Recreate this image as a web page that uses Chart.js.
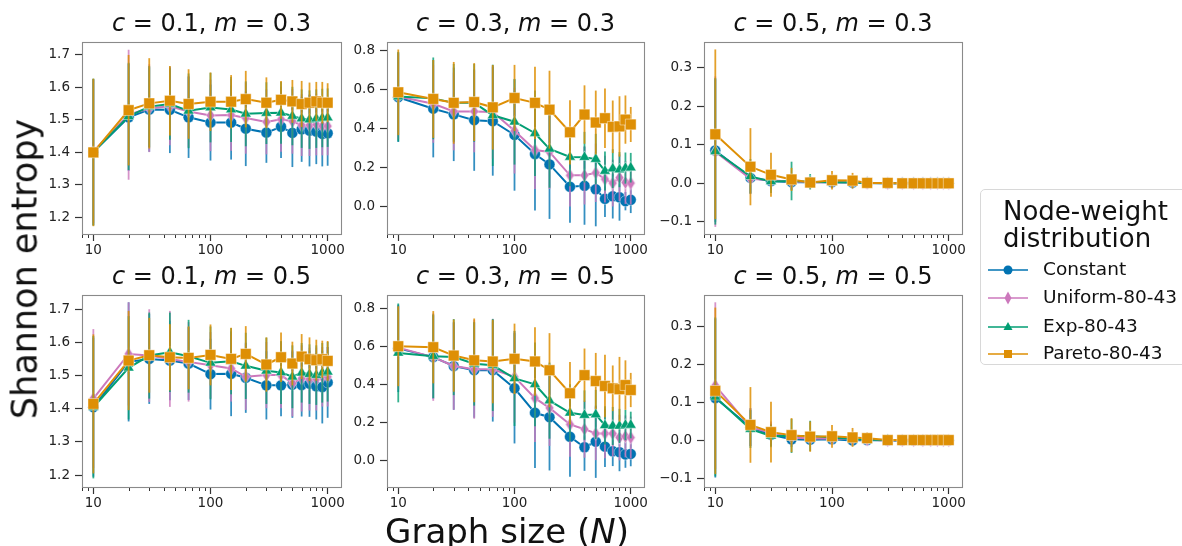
<!DOCTYPE html>
<html><head><meta charset="utf-8">
<script src="https://cdn.jsdelivr.net/npm/chart.js@4/dist/chart.umd.min.js"></script>
<style>
html,body{margin:0;padding:0;background:#fff;}
body{width:1182px;height:546px;overflow:hidden;position:relative;font-family:"DejaVu Sans",sans-serif;color:#111;}
canvas.pc{position:absolute;}
.title{position:absolute;font-size:24px;line-height:1;white-space:nowrap;transform:translateX(-50%);}
.xlabel{position:absolute;font-size:34px;line-height:1;white-space:nowrap;transform:translateX(-50%);}
.ylabel{position:absolute;font-size:35px;line-height:1;white-space:nowrap;height:35px;transform:translate(-50%,-50%) rotate(-90deg);}
.legend{position:absolute;left:980px;top:189px;width:230px;height:176px;border:1px solid #d8d8d8;border-radius:5px;box-sizing:border-box;}
.ltitle{position:absolute;left:1003px;font-size:26px;line-height:1;white-space:nowrap;}
.lent{position:absolute;left:988px;height:28px;white-space:nowrap;}
.lent svg{position:absolute;left:0;top:4px;}
.lent span{position:absolute;left:55px;top:4px;font-size:18.5px;line-height:1;}
</style></head><body>
<script>
// ---------------- data ----------------
const sizes = [10,20,30,45,65,100,150,200,300,400,500,600,700,800,900,1000];
const seriesNames = ['Constant','Uniform-80-43','Exp-80-43','Pareto-80-43'];
const cLabels = ['0.1','0.3','0.5'];
const mLabels = ['0.3','0.5'];
const xTickLabels = [10,100,1000];
const xMinorTicks = [8,9,20,30,40,50,60,70,80,90,200,300,400,500,600,700,800,900];
const yTicks_c01 = [1.2,1.3,1.4,1.5,1.6,1.7];
const yTicks_c03 = [0.0,0.2,0.4,0.6,0.8];
const yTicks_c05 = [-0.1,0.0,0.1,0.2,0.3];

// c = 0.1, m = 0.3
const c01_m03_constant    = [1.400,1.507,1.531,1.530,1.507,1.491,1.491,1.472,1.460,1.478,1.459,1.470,1.466,1.463,1.456,1.458];
const c01_m03_constant_sd = [0.225,0.165,0.130,0.133,0.125,0.117,0.114,0.115,0.093,0.096,0.105,0.100,0.110,0.100,0.100,0.100];
const c01_m03_uniform     = [1.402,1.515,1.535,1.541,1.525,1.513,1.514,1.505,1.493,1.501,1.495,1.483,1.483,1.485,1.480,1.480];
const c01_m03_uniform_sd  = [0.220,0.200,0.135,0.120,0.110,0.110,0.110,0.110,0.100,0.100,0.100,0.095,0.095,0.095,0.090,0.090];
const c01_m03_exp         = [1.400,1.510,1.540,1.548,1.527,1.537,1.531,1.518,1.520,1.521,1.511,1.503,1.500,1.503,1.505,1.506];
const c01_m03_exp_sd      = [0.226,0.165,0.125,0.110,0.115,0.107,0.100,0.100,0.095,0.095,0.090,0.090,0.090,0.090,0.090,0.090];
const c01_m03_pareto      = [1.399,1.529,1.550,1.558,1.548,1.555,1.555,1.563,1.552,1.561,1.556,1.548,1.552,1.556,1.552,1.552];
const c01_m03_pareto_sd   = [0.227,0.170,0.139,0.107,0.107,0.090,0.082,0.087,0.078,0.058,0.066,0.071,0.062,0.060,0.064,0.060];

// c = 0.3, m = 0.3
const c03_m03_constant    = [0.561,0.502,0.473,0.443,0.438,0.367,0.269,0.216,0.101,0.106,0.088,0.039,0.052,0.047,0.027,0.034];
const c03_m03_constant_sd = [0.230,0.250,0.240,0.260,0.280,0.286,0.290,0.280,0.185,0.200,0.190,0.093,0.114,0.120,0.047,0.068];
const c03_m03_uniform     = [0.565,0.527,0.488,0.488,0.485,0.389,0.290,0.280,0.160,0.160,0.173,0.140,0.120,0.148,0.123,0.120];
const c03_m03_uniform_sd  = [0.220,0.200,0.200,0.210,0.240,0.220,0.200,0.190,0.160,0.150,0.150,0.120,0.120,0.120,0.110,0.110];
const c03_m03_exp         = [0.564,0.555,0.532,0.532,0.468,0.435,0.376,0.296,0.254,0.253,0.243,0.182,0.194,0.189,0.197,0.199];
const c03_m03_exp_sd      = [0.230,0.210,0.200,0.200,0.260,0.220,0.220,0.200,0.150,0.130,0.130,0.100,0.100,0.090,0.080,0.076];
const c03_m03_pareto      = [0.586,0.552,0.532,0.536,0.509,0.557,0.532,0.497,0.381,0.472,0.431,0.453,0.409,0.411,0.446,0.421];
const c03_m03_pareto_sd   = [0.220,0.200,0.210,0.200,0.217,0.170,0.185,0.200,0.165,0.150,0.164,0.153,0.135,0.155,0.124,0.090];

// c = 0.5, m = 0.3
const c05_m03_constant    = [0.085,0.014,0.006,0.003,0.003,0.003,0.002,0.001,0,0,0,0,0,0,0,0];
const c05_m03_constant_sd = [0.185,0.040,0.020,0.020,0.012,0.010,0.010,0.008,0.005,0.005,0.005,0.005,0.005,0.005,0.005,0.005];
const c05_m03_uniform     = [0.082,0.012,0.008,0.004,0.003,0.003,0.002,0.001,0,0,0,0,0,0,0,0];
const c05_m03_uniform_sd  = [0.195,0.040,0.025,0.020,0.015,0.012,0.012,0.012,0.010,0.010,0.010,0.010,0.010,0.010,0.010,0.010];
const c05_m03_exp         = [0.083,0.018,0.005,0.006,0.004,0.003,0.002,0.001,0,0,0,0,0,0,0,0];
const c05_m03_exp_sd      = [0.190,0.045,0.030,0.050,0.020,0.015,0.015,0.010,0.008,0.006,0.006,0.006,0.006,0.006,0.006,0.006];
const c05_m03_pareto      = [0.127,0.043,0.022,0.010,0.002,0.008,0.007,0.001,0.001,0,0,0,0,0,0,0];
const c05_m03_pareto_sd   = [0.220,0.100,0.057,0.030,0.015,0.024,0.020,0.010,0.006,0.004,0.004,0.004,0.004,0.004,0.004,0.004];

// c = 0.1, m = 0.5
const c01_m05_constant    = [1.405,1.542,1.551,1.546,1.537,1.505,1.506,1.494,1.471,1.471,1.473,1.472,1.476,1.468,1.466,1.480];
const c01_m05_constant_sd = [0.210,0.180,0.136,0.120,0.110,0.107,0.128,0.106,0.103,0.093,0.100,0.095,0.100,0.100,0.110,0.107];
const c01_m05_uniform     = [1.431,1.566,1.561,1.551,1.542,1.532,1.522,1.497,1.502,1.502,1.477,1.492,1.490,1.490,1.497,1.497];
const c01_m05_uniform_sd  = [0.210,0.156,0.140,0.145,0.120,0.100,0.100,0.100,0.100,0.100,0.100,0.100,0.095,0.095,0.090,0.090];
const c01_m05_exp         = [1.405,1.524,1.561,1.571,1.559,1.539,1.544,1.530,1.515,1.510,1.497,1.509,1.505,1.502,1.509,1.512];
const c01_m05_exp_sd      = [0.215,0.156,0.130,0.120,0.110,0.110,0.100,0.100,0.100,0.095,0.095,0.090,0.090,0.090,0.090,0.090];
const c01_m05_pareto      = [1.415,1.546,1.562,1.556,1.554,1.563,1.551,1.566,1.534,1.556,1.537,1.558,1.550,1.547,1.550,1.545];
const c01_m05_pareto_sd   = [0.210,0.150,0.113,0.100,0.095,0.092,0.094,0.084,0.082,0.075,0.066,0.068,0.066,0.062,0.056,0.060];

// c = 0.3, m = 0.5
const c03_m05_constant    = [0.591,0.545,0.498,0.476,0.476,0.381,0.252,0.229,0.126,0.071,0.100,0.074,0.050,0.045,0.033,0.036];
const c03_m05_constant_sd = [0.230,0.220,0.230,0.250,0.270,0.290,0.290,0.280,0.210,0.124,0.190,0.107,0.078,0.100,0.070,0.065];
const c03_m05_uniform     = [0.595,0.545,0.498,0.481,0.481,0.441,0.329,0.278,0.191,0.166,0.143,0.143,0.143,0.122,0.128,0.122];
const c03_m05_uniform_sd  = [0.220,0.230,0.230,0.260,0.250,0.240,0.230,0.200,0.170,0.150,0.140,0.130,0.120,0.120,0.110,0.110];
const c03_m05_exp         = [0.567,0.550,0.545,0.510,0.502,0.433,0.402,0.316,0.252,0.240,0.243,0.186,0.183,0.183,0.188,0.188];
const c03_m05_exp_sd      = [0.260,0.220,0.200,0.220,0.240,0.250,0.220,0.200,0.150,0.130,0.130,0.100,0.100,0.090,0.080,0.070];
const c03_m05_pareto      = [0.602,0.597,0.553,0.528,0.522,0.536,0.522,0.476,0.355,0.450,0.419,0.393,0.381,0.376,0.398,0.372];
const c03_m05_pareto_sd   = [0.210,0.190,0.190,0.220,0.220,0.185,0.180,0.195,0.164,0.140,0.148,0.164,0.120,0.170,0.130,0.090];

// c = 0.5, m = 0.5
const c05_m05_constant    = [0.112,0.035,0.015,0.003,0.002,0.003,0.000,0.001,0,0,0,0,0,0,0,0];
const c05_m05_constant_sd = [0.210,0.050,0.030,0.020,0.015,0.012,0.010,0.010,0.005,0.005,0.005,0.005,0.005,0.005,0.005,0.005];
const c05_m05_uniform     = [0.145,0.035,0.020,0.008,0.005,0.005,0.004,0.002,0,0,0,0,0,0,0,0];
const c05_m05_uniform_sd  = [0.220,0.050,0.030,0.020,0.015,0.012,0.012,0.012,0.010,0.010,0.010,0.010,0.010,0.010,0.010,0.010];
const c05_m05_exp         = [0.115,0.030,0.012,0.012,0.012,0.008,0.004,0.002,0.001,0,0,0,0,0,0,0];
const c05_m05_exp_sd      = [0.210,0.050,0.030,0.045,0.040,0.015,0.012,0.010,0.008,0.006,0.006,0.006,0.006,0.006,0.006,0.006];
const c05_m05_pareto      = [0.131,0.041,0.022,0.014,0.010,0.011,0.008,0.006,0.001,0.001,0.001,0.001,0.001,0.001,0.001,0.001];
const c05_m05_pareto_sd   = [0.220,0.100,0.080,0.045,0.040,0.030,0.025,0.015,0.010,0.008,0.006,0.006,0.006,0.006,0.006,0.006];

// ---------------- styling / layout ----------------
const COLORS = ['#0173b2','#cc78bc','#029e73','#de8f05'];
const ERRCOLORS = ['rgba(1,115,178,0.8)','rgba(204,120,188,0.8)','rgba(2,158,115,0.8)','rgba(222,143,5,0.85)'];
const FONT = '"DejaVu Sans", sans-serif';

function thinDiamond(color){
  const c = document.createElement('canvas'); c.width = 11; c.height = 15;
  const g = c.getContext('2d');
  g.beginPath(); g.moveTo(5.5,0.8); g.lineTo(9.8,7.5); g.lineTo(5.5,14.2); g.lineTo(1.2,7.5); g.closePath();
  g.fillStyle = color; g.fill(); g.strokeStyle = 'rgba(255,255,255,0.6)'; g.lineWidth = 0.8; g.stroke();
  return c;
}
const POINTSTYLES = ['circle', thinDiamond(COLORS[1]), 'triangle', 'rect'];
const POINTRADII = [5.5, 6, 6.3, 7.6];

const panels = [
  {box:[82,39,341,234],  yr:[1.148,1.7385], yt:yTicks_c01, c:0, m:0, means:[c01_m03_constant,c01_m03_uniform,c01_m03_exp,c01_m03_pareto], sds:[c01_m03_constant_sd,c01_m03_uniform_sd,c01_m03_exp_sd,c01_m03_pareto_sd]},
  {box:[387,39,644,234], yr:[-0.1415,0.844], yt:yTicks_c03, c:1, m:0, means:[c03_m03_constant,c03_m03_uniform,c03_m03_exp,c03_m03_pareto], sds:[c03_m03_constant_sd,c03_m03_uniform_sd,c03_m03_exp_sd,c03_m03_pareto_sd]},
  {box:[704,39,962,234], yr:[-0.1314,0.366], yt:yTicks_c05, c:2, m:0, means:[c05_m03_constant,c05_m03_uniform,c05_m03_exp,c05_m03_pareto], sds:[c05_m03_constant_sd,c05_m03_uniform_sd,c05_m03_exp_sd,c05_m03_pareto_sd]},
  {box:[82,292,341,487], yr:[1.164,1.7437], yt:yTicks_c01, c:0, m:1, means:[c01_m05_constant,c01_m05_uniform,c01_m05_exp,c01_m05_pareto], sds:[c01_m05_constant_sd,c01_m05_uniform_sd,c01_m05_exp_sd,c01_m05_pareto_sd]},
  {box:[387,292,644,487],yr:[-0.138,0.871],  yt:yTicks_c03, c:1, m:1, means:[c03_m05_constant,c03_m05_uniform,c03_m05_exp,c03_m05_pareto], sds:[c03_m05_constant_sd,c03_m05_uniform_sd,c03_m05_exp_sd,c03_m05_pareto_sd]},
  {box:[704,292,962,487],yr:[-0.123,0.384],  yt:yTicks_c05, c:2, m:1, means:[c05_m05_constant,c05_m05_uniform,c05_m05_exp,c05_m05_pareto], sds:[c05_m05_constant_sd,c05_m05_uniform_sd,c05_m05_exp_sd,c05_m05_pareto_sd]}
];

const errPlugin = {
  id:'errbars',
  beforeDatasetDraw(chart, args){
    const ds = chart.data.datasets[args.index]; if(!ds.sd) return;
    const ctx = chart.ctx, a = chart.chartArea, xs = chart.scales.x, ys = chart.scales.y;
    ctx.save(); ctx.beginPath(); ctx.rect(a.left, a.top, a.right-a.left, a.bottom-a.top); ctx.clip();
    ctx.strokeStyle = ds.errColor; ctx.lineWidth = 1.8;
    ds.data.forEach((p,i)=>{
      const px = xs.getPixelForValue(p.x);
      ctx.beginPath(); ctx.moveTo(px, ys.getPixelForValue(p.y - ds.sd[i])); ctx.lineTo(px, ys.getPixelForValue(p.y + ds.sd[i])); ctx.stroke();
    });
    ctx.restore();
  }
};
const framePlugin = {
  id:'frame',
  afterDraw(chart){
    const ctx = chart.ctx, a = chart.chartArea, xs = chart.scales.x;
    ctx.save();
    ctx.strokeStyle = '#333'; ctx.lineWidth = 1;
    xMinorTicks.forEach(v=>{
      if(v < xs.min || v > xs.max) return;
      const px = Math.round(xs.getPixelForValue(v)) + 0.5;
      ctx.beginPath(); ctx.moveTo(px, a.bottom); ctx.lineTo(px, a.bottom + 4); ctx.stroke();
    });
    ctx.strokeStyle = '#8a8a8a'; ctx.lineWidth = 1.1;
    ctx.strokeRect(Math.round(a.left)+0.5, Math.round(a.top)+0.5, Math.round(a.right-a.left), Math.round(a.bottom-a.top));
    ctx.restore();
  }
};

const PADL = 48, PADT = 10, PADR = 24, PADB = 28;
const fmtY = v => (v < -1e-9 ? '\u2212' : '') + Math.abs(v).toFixed(1);

panels.forEach((p, k)=>{
  const [L,T,R,B] = p.box;
  const cv = document.createElement('canvas');
  cv.className = 'pc';
  cv.width = R-L+PADL+PADR; cv.height = B-T+PADT+PADB;
  cv.style.left = (L-PADL)+'px'; cv.style.top = (T-PADT)+'px';
  cv.style.width = cv.width+'px'; cv.style.height = cv.height+'px';
  document.body.appendChild(cv);

  const title = document.createElement('div');
  title.className = 'title';
  title.style.left = ((L+R)/2)+'px';
  title.style.top = (T - 28.3)+'px';
  title.innerHTML = '<i>c</i> = ' + cLabels[p.c] + ', <i>m</i> = ' + mLabels[p.m];
  document.body.appendChild(title);

  const datasets = seriesNames.map((name,i)=>({
    label:name,
    data: sizes.map((s,j)=>({x:s, y:p.means[i][j]})),
    sd: p.sds[i],
    errColor: ERRCOLORS[i],
    borderColor: COLORS[i],
    backgroundColor: COLORS[i],
    borderWidth: 2,
    pointStyle: POINTSTYLES[i],
    pointRadius: POINTRADII[i],
    pointBackgroundColor: COLORS[i],
    pointBorderColor: 'rgba(255,255,255,0.55)',
    pointBorderWidth: 0.8,
    order: 4 - i,
    tension: 0,
    clip: 6
  }));

  const chart = new Chart(cv, {
    type:'line',
    data:{datasets},
    plugins:[errPlugin, framePlugin],
    options:{
      responsive:false, animation:false, devicePixelRatio:1,
      layout:{padding:{left:0, top:PADT, right:PADR, bottom:0}},
      plugins:{legend:{display:false}, tooltip:{enabled:false}, title:{display:false}},
      scales:{
        x:{
          type:'logarithmic', min:8.0, max:1300,
          afterBuildTicks:s=>{ s.ticks = xTickLabels.map(v=>({value:v})); },
          afterFit:s=>{ s.height = PADB; },
          border:{display:false},
          grid:{drawOnChartArea:false, drawTicks:true, tickLength:7, tickColor:'#333', tickWidth:1.2},
          ticks:{autoSkip:false, maxRotation:0, padding:1, color:'#222', font:{family:FONT, size:13.5},
                 callback:v=>String(v)}
        },
        y:{
          type:'linear', min:p.yr[0], max:p.yr[1],
          afterBuildTicks:s=>{ s.ticks = p.yt.map(v=>({value:v})); },
          afterFit:s=>{ s.width = PADL; },
          border:{display:false},
          grid:{drawOnChartArea:false, drawTicks:true, tickLength:7, tickColor:'#333', tickWidth:1.2},
          ticks:{padding:5, color:'#222', font:{family:FONT, size:13.5}, callback:v=>fmtY(v)}
        }
      }
    }
  });
  // make the plotting area land exactly on the intended box
  const a = chart.chartArea;
  const dTop = a.top - PADT, dLeft = a.left - PADL, dRight = (cv.width - PADR) - a.right, dBot = (cv.height - PADB) - a.bottom;
  if (Math.abs(dTop) > 0.5 || Math.abs(dLeft) > 0.5 || Math.abs(dRight) > 0.5 || Math.abs(dBot) > 0.5) {
    const pad = chart.options.layout.padding;
    pad.top = Math.max(0, PADT - dTop);
    pad.left = Math.max(0, -dLeft);
    pad.right = Math.max(0, PADR - dRight);
    pad.bottom = Math.max(0, -dBot);
    chart.update();
  }
});
</script>
<div class="ylabel" style="left:25px;top:269px;">Shannon entropy</div>
<div class="xlabel" style="left:507px;top:514px;">Graph size (<i>N</i>)</div>
<div class="legend"></div>
<div class="ltitle" style="top:198px;">Node-weight</div>
<div class="ltitle" style="top:225px;">distribution</div>
<div class="lent" style="top:256px;"><svg width="42" height="20"><line x1="0" y1="10" x2="40" y2="10" stroke="#0173b2" stroke-width="1.5"/><circle cx="20" cy="10" r="4.5" fill="#0173b2"/></svg><span>Constant</span></div>
<div class="lent" style="top:284px;"><svg width="42" height="20"><line x1="0" y1="10" x2="40" y2="10" stroke="#cc78bc" stroke-width="1.5"/><polygon points="20,3.5 23.5,10 20,16.5 16.5,10" fill="#cc78bc"/></svg><span>Uniform-80-43</span></div>
<div class="lent" style="top:313px;"><svg width="42" height="20"><line x1="0" y1="10" x2="40" y2="10" stroke="#029e73" stroke-width="1.5"/><polygon points="20,5 24.5,13 15.5,13" fill="#029e73"/></svg><span>Exp-80-43</span></div>
<div class="lent" style="top:340px;"><svg width="42" height="20"><line x1="0" y1="10" x2="40" y2="10" stroke="#de8f05" stroke-width="1.5"/><rect x="16" y="6" width="8" height="8" fill="#de8f05"/></svg><span>Pareto-80-43</span></div>
</body></html>
